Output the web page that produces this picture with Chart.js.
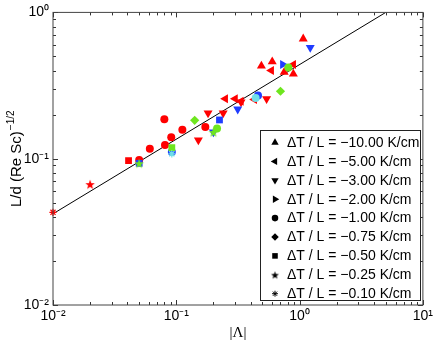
<!DOCTYPE html>
<html>
<head>
<meta charset="utf-8">
<script src="https://cdn.jsdelivr.net/npm/chart.js@4.4.1/dist/chart.umd.min.js"></script>
<style>
	html, body { margin: 0; padding: 0; background: #fff; }
</style>
</head>
<body>
<canvas id="chart" width="436" height="345"></canvas>
<script>
/*global Chart: true*/

// 凡例ラベル
const legendLabels = [
	'ΔT / L = −10.00 K/cm',
	'ΔT / L = −5.00 K/cm',
	'ΔT / L = −3.00 K/cm',
	'ΔT / L = −2.00 K/cm',
	'ΔT / L = −1.00 K/cm',
	'ΔT / L = −0.75 K/cm',
	'ΔT / L = −0.50 K/cm',
	'ΔT / L = −0.25 K/cm',
	'ΔT / L = −0.10 K/cm'
];

// -10.00 K/cm
const m1000X = [ 0.49, 0.60, 0.75, 0.89, 1.07 ];
const m1000Y = [ 0.43, 0.46, 0.39, 0.38, 0.66 ];
const m1000C = [ 'r', 'r', 'r', 'r', 'r' ];
// -5.00 K/cm
const m500X = [ 0.25, 0.30, 0.335, 0.43, 0.59, 0.89 ];
const m500Y = [ 0.257, 0.257, 0.247, 0.254, 0.40, 0.44 ];
const m500C = [ 'r', 'r', 'r', 'r', 'r', 'r' ];
// -3.00 K/cm
const m300X = [ 0.151, 0.181, 0.24, 0.335, 0.54, 0.20, 0.315, 1.22 ];
const m300Y = [ 0.134, 0.205, 0.205, 0.244, 0.257, 0.152, 0.218, 0.574 ];
const m300C = [ 'r', 'r', 'r', 'r', 'r', 'b', 'b', 'b' ];
// -2.00 K/cm
const m200X = [ 0.73 ];
const m200Y = [ 0.44 ];
const m200C = [ 'b' ];
// -1.00 K/cm
const m100X = [ 0.05, 0.061, 0.080, 0.081, 0.091, 0.112, 0.172, 0.214, 0.81, 0.092, 0.46, 0.44 ];
const m100Y = [ 0.098, 0.117, 0.186, 0.124, 0.14, 0.158, 0.165, 0.161, 0.42, 0.111, 0.27, 0.26 ];
const m100C = [ 'r', 'r', 'r', 'r', 'r', 'r', 'r', 'g', 'g', 'b', 'b', 'c' ];
// -0.75 K/cm
const m075X = [ 0.141, 0.70 ];
const m075Y = [ 0.183, 0.289 ];
const m075C = [ 'g', 'g' ];
// -0.50 K/cm
const m050X = [ 0.041, 0.05, 0.092, 0.224 ];
const m050Y = [ 0.097, 0.093, 0.119, 0.184 ];
const m050C = [ 'r', 'b', 'g', 'b' ];
// -0.25 K/cm
const m025X = [ 0.02, 0.05, 0.20 ];
const m025Y = [ 0.067, 0.093, 0.152 ];
const m025C = [ 'r', 'g', 'g' ];
// -0.10 K/cm
const m010X = [ 0.01, 0.092 ];
const m010Y = [ 0.043, 0.108 ];
const m010C = [ 'r', 'c' ];

// フィット直線
const fitX = [ 0.01, 5.0 ];
const fitY = [ 0.042, 1.0 ];

// 目盛り
const xMajor = [ 0.01, 0.1, 1, 10 ];
const xTickLabels = [ '10⁻²', '10⁻¹', '10⁰', '10¹' ];
const yMajor = [ 0.01, 0.1, 1 ];
const yTickLabels = [ '10⁻²', '10⁻¹', '10⁰' ];

const palette = { r: '#ff0000', b: '#1f3cff', g: '#6ee61e', c: '#70e0e8' };
const FONT = '"Liberation Sans", Arial, Helvetica, sans-serif';

// 星型マーカー
const starCache = {};
function starImage( color, outer ) {
	const key = color + outer;
	if ( starCache[ key ] ) {
		return starCache[ key ];
	}
	const size = Math.ceil( outer * 2 + 2 );
	const cv = document.createElement( 'canvas' );
	cv.width = size;
	cv.height = size;
	const g = cv.getContext( '2d' );
	g.fillStyle = color;
	g.beginPath();
	for ( let i = 0; i < 10; i++ ) {
		const r = i % 2 ? outer * 0.42 : outer;
		const a = -Math.PI / 2 + i * Math.PI / 5;
		g.lineTo( size / 2 + r * Math.cos( a ), size / 2 + 0.6 + r * Math.sin( a ) );
	}
	g.closePath();
	g.fill();
	starCache[ key ] = cv;
	return cv;
}

const series = [
	{ x: m1000X, y: m1000Y, c: m1000C, style: 'triangle', rot: 0, r: 5.2 },
	{ x: m500X, y: m500Y, c: m500C, style: 'triangle', rot: -90, r: 5.2 },
	{ x: m300X, y: m300Y, c: m300C, style: 'triangle', rot: 180, r: 5.2 },
	{ x: m200X, y: m200Y, c: m200C, style: 'triangle', rot: 90, r: 5.2 },
	{ x: m100X, y: m100Y, c: m100C, style: 'circle', rot: 0, r: 4 },
	{ x: m075X, y: m075Y, c: m075C, style: 'rectRot', rot: 0, r: 4.6 },
	{ x: m050X, y: m050Y, c: m050C, style: 'rect', rot: 0, r: 4.8 },
	{ x: m025X, y: m025Y, c: m025C, style: 'star5', rot: 0, r: 5 },
	{ x: m010X, y: m010Y, c: m010C, style: 'star', rot: 0, r: 3.6 }
];

const datasets = series.map( function ( s, i ) {
	const colors = s.c.map( function ( k ) {
		return palette[ k ];
	} );
	return {
		label: legendLabels[ i ],
		data: s.x.map( function ( v, j ) {
			return { x: v, y: s.y[ j ] };
		} ),
		pointStyle: s.style === 'star5' ? function ( ctx ) {
			return starImage( colors[ ctx.dataIndex ] || palette.r, s.r );
		} : s.style,
		rotation: s.rot,
		radius: s.r,
		pointRadius: s.r,
		pointHoverRadius: s.r,
		backgroundColor: colors,
		borderColor: colors,
		borderWidth: s.style === 'star' ? 1.2 : 0,
		clip: false,
		order: -i
	};
} );

datasets.push( {
	label: 'fit',
	data: fitX.map( function ( v, j ) {
		return { x: v, y: fitY[ j ] };
	} ),
	showLine: true,
	borderColor: '#000',
	borderWidth: 1,
	pointRadius: 0,
	order: 10
} );

function tickMarks( values, majors ) {
	return values.map( function ( v ) {
		return { value: v, major: majors.indexOf( v ) >= 0 };
	} );
}

function logTicks( lo, hi ) {
	const out = [];
	for ( let e = lo; e <= hi; e++ ) {
		for ( let m = 1; m <= 9; m++ ) {
			if ( e === hi && m > 1 ) {
				break;
			}
			out.push( parseFloat( ( m * Math.pow( 10, e ) ).toPrecision( 6 ) ) );
		}
	}
	return out;
}

// 枠と内向き目盛り
const framePlugin = {
	id: 'frame',
	afterDatasetsDraw( chart ) {
		const ctx = chart.ctx;
		const a = chart.chartArea;
		const xs = chart.scales.x;
		const ys = chart.scales.y;
		ctx.save();
		ctx.strokeStyle = '#333';
		ctx.lineWidth = 1;
		ctx.beginPath();
		xs.ticks.forEach( function ( t ) {
			const px = Math.round( xs.getPixelForValue( t.value ) ) + 0.5;
			const len = t.major ? 5 : 3;
			ctx.moveTo( px, a.bottom );
			ctx.lineTo( px, a.bottom - len );
			ctx.moveTo( px, a.top );
			ctx.lineTo( px, a.top + len );
		} );
		ys.ticks.forEach( function ( t ) {
			const py = Math.round( ys.getPixelForValue( t.value ) ) + 0.5;
			const len = t.major ? 5 : 3;
			ctx.moveTo( a.left, py );
			ctx.lineTo( a.left + len, py );
			ctx.moveTo( a.right, py );
			ctx.lineTo( a.right - len, py );
		} );
		ctx.stroke();
		ctx.strokeStyle = '#444';
		ctx.strokeRect( a.left, a.top, a.right - a.left, a.bottom - a.top );
		ctx.restore();
	}
};

// 縦軸タイトル
const yTitlePlugin = {
	id: 'yTitle',
	afterDraw( chart ) {
		const ctx = chart.ctx;
		const a = chart.chartArea;
		const base = 'L/d (Re Sc)';
		const sup = '−1/2';
		ctx.save();
		ctx.fillStyle = '#000';
		ctx.translate( 21, ( a.top + a.bottom ) / 2 );
		ctx.rotate( -Math.PI / 2 );
		ctx.font = '15px ' + FONT;
		const wb = ctx.measureText( base ).width;
		ctx.font = '10px ' + FONT;
		const ws = ctx.measureText( sup ).width;
		const start = -( wb + ws + 1 ) / 2;
		ctx.textBaseline = 'alphabetic';
		ctx.font = '15px ' + FONT;
		ctx.fillText( base, start, 0 );
		ctx.font = '10px ' + FONT;
		ctx.fillText( sup, start + wb + 1, -7 );
		ctx.restore();
	}
};

// 図中の凡例
const legendPlugin = {
	id: 'boxLegend',
	afterDraw( chart ) {
		const ctx = chart.ctx;
		const left = 260;
		const top = 130;
		const w = 160;
		const h = 170;
		ctx.save();
		ctx.fillStyle = '#fff';
		ctx.fillRect( left, top, w, h );
		ctx.strokeStyle = '#222';
		ctx.lineWidth = 1;
		ctx.strokeRect( left + 0.5, top + 0.5, w, h );
		ctx.font = '14px ' + FONT;
		ctx.textBaseline = 'middle';
		series.forEach( function ( s, i ) {
			const y = 142.5 + i * 18.9;
			const mx = 275;
			ctx.fillStyle = '#000';
			ctx.strokeStyle = '#000';
			const r = s.r * 0.82;
			if ( s.style === 'star5' ) {
				const img = starImage( '#000', r );
				ctx.drawImage( img, mx - img.width / 2, y - img.height / 2 );
			} else {
				Chart.helpers.drawPoint( ctx, {
					pointStyle: s.style,
					rotation: s.rot,
					radius: r,
					borderWidth: s.style === 'star' ? 1 : 0
				}, mx, y );
			}
			ctx.fillStyle = '#000';
			ctx.fillText( legendLabels[ i ], 287, y + 0.5 );
		} );
		ctx.restore();
	}
};

new Chart( document.getElementById( 'chart' ).getContext( '2d' ), {
	type: 'scatter',
	data: { datasets: datasets },
	plugins: [ framePlugin, yTitlePlugin, legendPlugin ],
	options: {
		responsive: false,
		animation: false,
		layout: { padding: { top: 12, right: 12, bottom: 0, left: 0 } },
		plugins: {
			legend: { display: false },
			tooltip: { enabled: false }
		},
		scales: {
			x: {
				type: 'logarithmic',
				min: 0.01,
				max: 10,
				afterBuildTicks( scale ) {
					scale.ticks = tickMarks( logTicks( -2, 1 ), xMajor );
				},
				afterFit( scale ) {
					scale.height = 40;
				},
				grid: { display: false, drawTicks: false },
				border: { display: false },
				ticks: {
					autoSkip: false,
					maxRotation: 0,
					padding: 3,
					color: '#000',
					font: { family: FONT, size: 14 },
					callback( value ) {
						const k = xMajor.indexOf( value );
						return k >= 0 ? xTickLabels[ k ] : '';
					}
				},
				title: {
					display: true,
					text: '|Λ|',
					color: '#000',
					font: { family: '"Liberation Serif", "Times New Roman", serif', size: 15 },
					padding: { top: 0, bottom: 3 }
				}
			},
			y: {
				type: 'logarithmic',
				min: 0.01,
				max: 1,
				afterBuildTicks( scale ) {
					scale.ticks = tickMarks( logTicks( -2, 0 ), yMajor );
				},
				afterFit( scale ) {
					scale.width = 53;
				},
				grid: { display: false, drawTicks: false },
				border: { display: false },
				ticks: {
					autoSkip: false,
					padding: 4,
					color: '#000',
					font: { family: FONT, size: 14 },
					callback( value ) {
						const k = yMajor.indexOf( value );
						return k >= 0 ? yTickLabels[ k ] : '';
					}
				}
			}
		}
	}
} );
</script>
</body>
</html>
